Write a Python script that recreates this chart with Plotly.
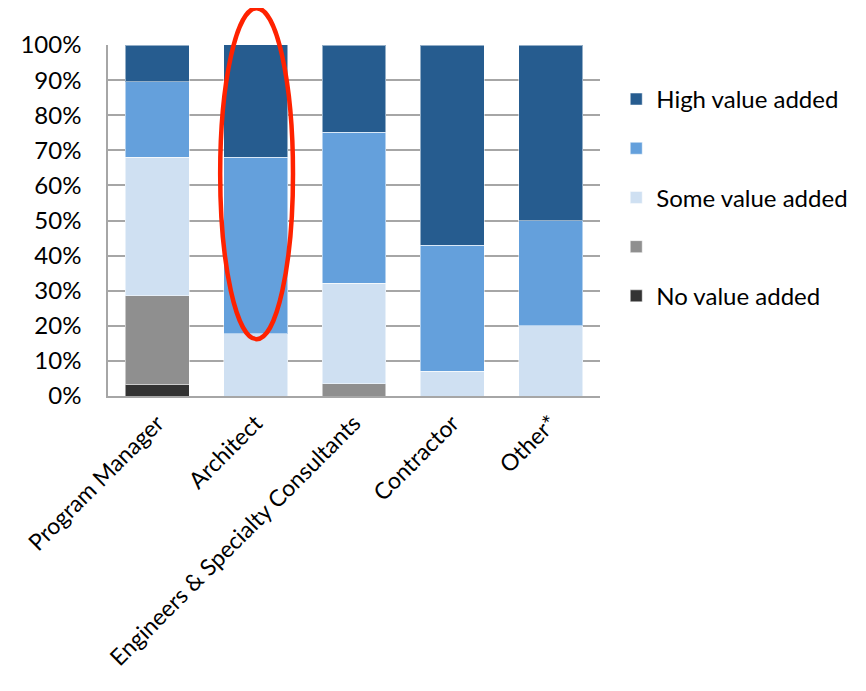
import plotly.graph_objects as go

categories = ["Program Manager", "Architect", "Engineers & Specialty Consultants", "Contractor", "Other*"]
no_value = [3.3, 0, 0, 0, 0]
low_value = [25.2, 0, 3.5, 0, 0]
some_value = [39.5, 17.7, 28.6, 7.0, 20.0]
mid_value = [21.5, 50.3, 43.1, 35.9, 30.0]
high_value = [10.5, 32.3, 24.8, 57.1, 50.0]

series = [
    ("No value added", no_value, "#333333", 5),
    (" ", low_value, "#8f8f8f", 4),
    ("Some value added", some_value, "#cfe0f2", 3),
    ("  ", mid_value, "#64a0dc", 2),
    ("High value added", high_value, "#265c8f", 1),
]

FONT = "Lato"
FS = 24
fig = go.Figure()
for i, (name, vals, col, rank) in enumerate(series):
    fig.add_trace(go.Bar(
        x=categories, y=vals, name=name, legendgroup=f"g{i}", legendrank=rank,
        marker=dict(color=col, line=dict(color="rgba(255,255,255,0.5)", width=1)),
    ))

fig.add_shape(type="circle", xref="x", yref="paper", x0=0.64, x1=1.38, y0=0.162, y1=1.105,
              line=dict(color="#ff2200", width=4.5), layer="above")

fig.update_layout(
    width=850, height=675,
    barmode="stack", bargap=0.35,
    plot_bgcolor="white", paper_bgcolor="white",
    margin=dict(l=100, r=258, t=37, b=287, autoexpand=False),
    font=dict(family=FONT, size=FS, color="black"),
    legend=dict(x=1.033, y=0.909, xanchor="left", yanchor="top",
                traceorder="grouped", tracegroupgap=15,
                font=dict(family=FONT, size=FS), itemwidth=30),
    yaxis=dict(range=[0, 100], dtick=10, ticksuffix="%", showgrid=True,
               gridcolor="#a6a6a6", gridwidth=1.5, showline=True, linecolor="#a6a6a6",
               linewidth=1.5, zeroline=False, ticks="", ticklabelstandoff=20,
               tickfont=dict(size=FS)),
    xaxis=dict(range=[-0.5, 4.5], showline=True, linecolor="#a6a6a6", linewidth=1.5,
               ticks="", tickangle=-45, ticklabelstandoff=3, tickfont=dict(size=23)),
)
fig.write_html("out.html")
